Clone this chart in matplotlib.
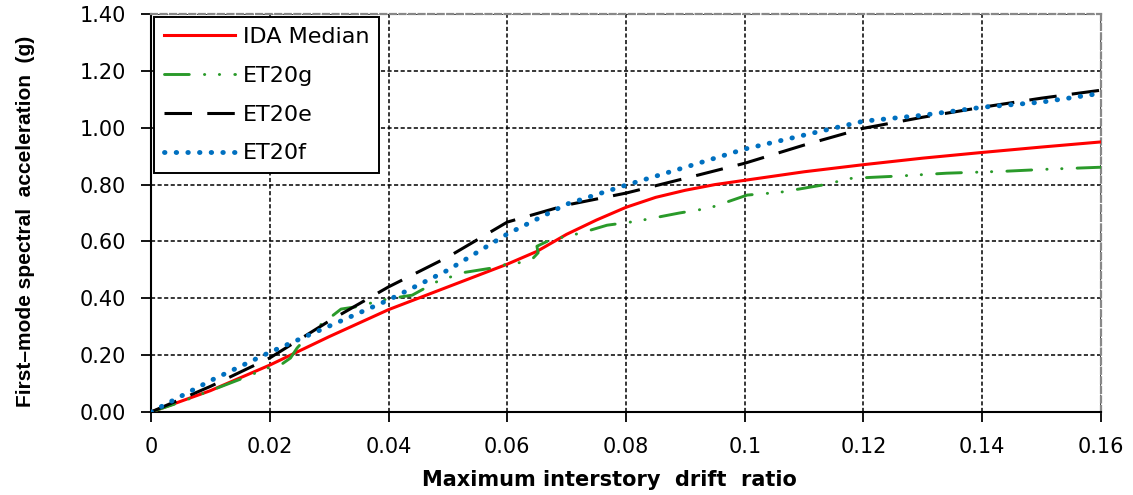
import matplotlib
matplotlib.use("Agg")
import matplotlib.pyplot as plt

# IDA median curve
ida_x = [0, 0.01, 0.02, 0.03, 0.04, 0.05, 0.06, 0.065, 0.07, 0.075, 0.08, 0.085,
         0.09, 0.095, 0.10, 0.11, 0.12, 0.13, 0.14, 0.15, 0.16]
ida_y = [0, 0.075, 0.165, 0.265, 0.36, 0.44, 0.52, 0.565, 0.625, 0.675, 0.72, 0.755,
         0.78, 0.80, 0.815, 0.845, 0.87, 0.893, 0.913, 0.932, 0.95]

# ET20g (with the small loops)
g_x = [0, 0.005, 0.01, 0.015, 0.0197, 0.022, 0.0235, 0.0246, 0.0273, 0.029, 0.032,
       0.0345, 0.037, 0.0397, 0.044, 0.048, 0.0525, 0.057, 0.06, 0.0627, 0.0643,
       0.0652, 0.065, 0.0672, 0.0723, 0.0768, 0.0818, 0.089, 0.094, 0.1004, 0.106,
       0.113, 0.118, 0.126, 0.134, 0.144, 0.151, 0.16]
g_y = [0, 0.035, 0.075, 0.115, 0.155, 0.168, 0.19, 0.225, 0.288, 0.313, 0.362,
       0.37, 0.383, 0.397, 0.411, 0.457, 0.49, 0.505, 0.52, 0.527, 0.54,
       0.56, 0.583, 0.605, 0.629, 0.657, 0.671, 0.70, 0.717, 0.763, 0.773,
       0.798, 0.822, 0.83, 0.84, 0.847, 0.854, 0.861]

# ET20e
e_x = [0, 0.01, 0.02, 0.03, 0.04, 0.05, 0.06, 0.07, 0.08, 0.09, 0.10, 0.11, 0.12,
       0.13, 0.14, 0.15, 0.16]
e_y = [0, 0.09, 0.19, 0.32, 0.44, 0.545, 0.668, 0.728, 0.77, 0.822, 0.875, 0.939,
       0.998, 1.037, 1.072, 1.104, 1.132]

# ET20f
f_x = [0, 0.01, 0.02, 0.03, 0.04, 0.05, 0.06, 0.07, 0.08, 0.09, 0.10, 0.11, 0.12,
       0.13, 0.14, 0.15, 0.16]
f_y = [0, 0.11, 0.21, 0.302, 0.394, 0.499, 0.626, 0.731, 0.798, 0.861, 0.925, 0.974,
       1.023, 1.044, 1.072, 1.09, 1.121]

x_ticks = [0, 0.02, 0.04, 0.06, 0.08, 0.1, 0.12, 0.14, 0.16]
x_tick_labels = ['0', '0.02', '0.04', '0.06', '0.08', '0.1', '0.12', '0.14', '0.16']
y_ticks = [0, 0.2, 0.4, 0.6, 0.8, 1.0, 1.2, 1.4]
y_tick_labels = ['0.00', '0.20', '0.40', '0.60', '0.80', '1.00', '1.20', '1.40']

fig = plt.figure(figsize=(11.33, 4.95), dpi=100)
ax = fig.add_axes([0.1333, 0.1677, 0.8384, 0.804])

ax.plot(ida_x, ida_y, color='#ff0000', linewidth=2.2, label='IDA Median', zorder=3)
ax.plot(g_x, g_y, color='#2a9a2a', linewidth=2.1, label='ET20g', zorder=3,
        dashes=(8.5, 5.2, 0.1, 5.0, 0.1, 5.2), dash_capstyle='round')
ax.plot(e_x, e_y, color='black', linewidth=2.2, label='ET20e', zorder=3,
        dashes=(9, 5))
ax.plot(f_x, f_y, color='#0070c0', linewidth=3.5, label='ET20f', zorder=4,
        dashes=(0.1, 2.3), dash_capstyle='round')

ax.set_xlim(0, 0.16)
ax.set_ylim(0, 1.4)
ax.set_xticks(x_ticks)
ax.set_xticklabels(x_tick_labels)
ax.set_yticks(y_ticks)
ax.set_yticklabels(y_tick_labels)
ax.tick_params(axis='both', direction='out', length=7, width=1.3,
               labelsize=15, pad=11)

ax.grid(True, color='black', linestyle=(0, (2.7, 1.6)), linewidth=1.1)
ax.set_axisbelow(True)

for side in ['left', 'bottom']:
    ax.spines[side].set_linewidth(1.5)
    ax.spines[side].set_color('black')
for side in ['top', 'right']:
    ax.spines[side].set_color('#888888')
    ax.spines[side].set_linestyle((0, (2.7, 1.6)))
    ax.spines[side].set_linewidth(1.6)

ax.set_xlabel('Maximum interstory  drift  ratio', fontsize=15, fontweight='bold')
ax.xaxis.set_label_coords(0.483, -0.145)
ax.set_ylabel('First\u2013mode spectral  acceleration  (g)', fontsize=15,
              fontweight='bold', family='Liberation Sans')
ax.yaxis.set_label_coords(-0.122, 0.48)

leg = ax.legend(loc='upper left', bbox_to_anchor=(0.003, 0.993), borderaxespad=0,
                fontsize=16, handlelength=3.2, handletextpad=0.35,
                labelspacing=0.85, borderpad=0.45, fancybox=False,
                framealpha=1, edgecolor='black')
leg.get_frame().set_linewidth(1.4)

fig.savefig('out.png', dpi=100)
